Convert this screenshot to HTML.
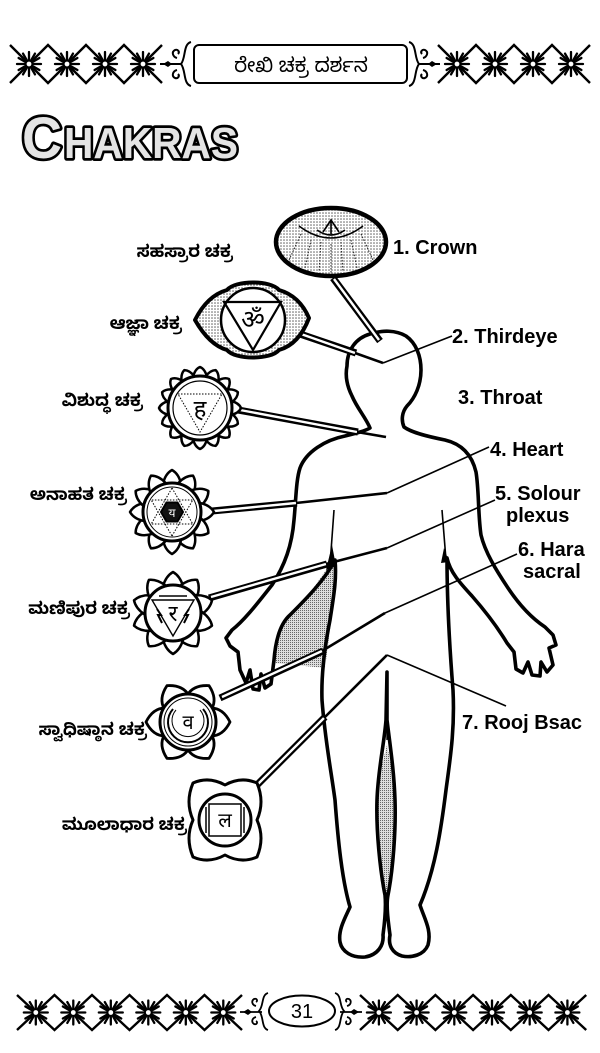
<!DOCTYPE html>
<html><head><meta charset="utf-8"><style>
html,body{margin:0;padding:0;background:#fff;}
svg{display:block;}
.lbl{font-family:"Liberation Sans",Arial,sans-serif;font-weight:bold;font-size:20px;fill:#000;}
.kn{font-family:"Liberation Sans","Noto Sans Kannada","Lohit Kannada",sans-serif;font-size:17px;font-weight:bold;fill:#000;}
.kt{font-family:"Liberation Sans","Noto Sans Kannada","Lohit Kannada",sans-serif;font-size:20px;fill:#000;}
.dv{font-family:"Liberation Sans","Noto Sans Devanagari","Lohit Devanagari","DejaVu Sans",sans-serif;fill:#000;}
</style></head><body>
<svg width="600" height="1053" viewBox="0 0 600 1053" xmlns="http://www.w3.org/2000/svg">
<defs>
<pattern id="dots" width="3" height="3" patternUnits="userSpaceOnUse"><rect width="3" height="3" fill="#fff"/><circle cx="1" cy="1" r="0.75" fill="#555"/></pattern>
<pattern id="gr" width="2" height="2" patternUnits="userSpaceOnUse"><rect width="2" height="2" fill="#ddd"/><rect width="1" height="1" fill="#666"/></pattern>
<g id="st">
<g stroke="#000" stroke-width="2.3" stroke-linecap="round">
<line x1="-12" y1="0" x2="12" y2="0"/><line x1="0" y1="-12" x2="0" y2="12"/>
<line x1="-10.4" y1="-6" x2="10.4" y2="6"/><line x1="-6" y1="-10.4" x2="6" y2="10.4"/>
<line x1="-10.4" y1="6" x2="10.4" y2="-6"/><line x1="-6" y1="10.4" x2="6" y2="-10.4"/>
</g>
<circle r="3" fill="#fff" stroke="#000" stroke-width="1.2"/>
</g>
<path id="p16" d="M-7,-31 Q-5,-39 0,-41 Q5,-39 7,-31 Z" fill="#fff" stroke="#000" stroke-width="2.5" stroke-linejoin="round"/>
<path id="p12" d="M-9,-28 Q-7,-38 0,-42 Q7,-38 9,-28 Z" fill="#fff" stroke="#000" stroke-width="2.5" stroke-linejoin="round"/>
<path id="p10" d="M-10,-27 Q-7,-37 0,-41 Q7,-37 10,-27 Z" fill="#fff" stroke="#000" stroke-width="2.5" stroke-linejoin="round"/>
<path id="p6" d="M-14,-23 Q-14,-35 0,-42 Q14,-35 14,-23 Z" fill="#fff" stroke="#000" stroke-width="2.8" stroke-linejoin="round"/>
</defs>

<!-- ===== TOP BORDER ===== -->
<g fill="none" stroke="#000" stroke-width="2.4">
<polyline points="10,45 48,83 86,45 124,83 162,45"/>
<polyline points="10,83 48,45 86,83 124,45 162,83"/>
<polyline points="438,45 476,83 514,45 552,83 590,45"/>
<polyline points="438,83 476,45 514,83 552,45 590,83"/>
</g>
<use href="#st" x="29" y="64"/><use href="#st" x="67" y="64"/><use href="#st" x="105" y="64"/><use href="#st" x="143" y="64"/>
<use href="#st" x="457" y="64"/><use href="#st" x="495" y="64"/><use href="#st" x="533" y="64"/><use href="#st" x="571" y="64"/>
<g fill="none" stroke="#000" stroke-width="2">
<line x1="160" y1="64" x2="182" y2="64"/>
<path d="M191,42 C183,44 186,58 181,64 C186,70 183,84 191,86"/>
<path d="M177,58 c-4,-1 -6,-6 -2,-8 c3,-1 5,2 3,4"/>
<path d="M177,70 c-4,1 -6,6 -2,8 c3,1 5,-2 3,-4"/>
<line x1="418" y1="64" x2="440" y2="64"/>
<path d="M409,42 C417,44 414,58 419,64 C414,70 417,84 409,86"/>
<path d="M423,58 c4,-1 6,-6 2,-8 c-3,-1 -5,2 -3,4"/>
<path d="M423,70 c4,1 6,6 2,8 c-3,1 -5,-2 -3,-4"/>
</g>
<path d="M163,64 l5,-3 l4,3 l-4,3 z M437,64 l-5,-3 l-4,3 l4,3 z" fill="#000"/>
<rect x="194" y="45" width="213" height="38" rx="5" fill="#fff" stroke="#000" stroke-width="2"/>
<text x="301" y="72" text-anchor="middle" class="kt">ರೇಖಿ ಚಕ್ರ ದರ್ಶನ</text>

<!-- ===== TITLE ===== -->
<text y="158" style="font-family:'Liberation Sans',Arial,sans-serif;font-weight:bold;" fill="#e4e4e4" stroke="#000" stroke-width="5.5" stroke-linejoin="round" paint-order="stroke"><tspan x="22" font-size="58" textLength="40" lengthAdjust="spacingAndGlyphs">C</tspan><tspan x="64" font-size="44" textLength="174" lengthAdjust="spacingAndGlyphs">HAKRAS</tspan></text>

<!-- ===== BODY ===== -->
<polygon points="333,560 305,600 282,624 274,663 325,668 330,630 337,565" fill="url(#gr)"/>
<polygon points="387,745 394,780 395,820 392,870 387,905 380,870 377,820 378,780" fill="url(#gr)"/>
<path fill="none" stroke="#000" stroke-width="3.6" stroke-linejoin="round" d="
M370,428 C366,418 357,408 352,396 C347,386 345,376 347,366 C347,350 356,338 370,334 C382,330 396,330 406,336 C416,343 421,356 421,370 C421,385 415,398 407,406 C402,412 401,420 404,427
C412,433 430,437 445,440 C462,444 472,455 476,472 C479,490 478,515 481,535 C485,552 496,570 508,588 C518,603 530,617 545,627
L553,635 L556,645 L549,648 L553,665 L547,672 L541,662 L540,676 L532,675 L528,662 L523,673 L516,669 L514,652 L507,643
C498,628 486,612 472,596 C460,583 450,572 447,558
C447,600 449,640 453,690 C455,730 450,760 446,790 C441,830 435,870 420,905 C424,918 432,930 428,945 C424,955 412,958 402,956 C392,953 388,945 390,935 C388,920 386,905 388,895 C393,870 396,830 395,800 C394,770 390,745 387,720 L387,672
L386,720 C384,745 378,770 377,800 C376,830 380,870 385,895 C386,905 385,920 383,935 C384,945 378,955 365,957 C352,958 342,952 340,942 C338,930 345,918 350,907 C342,880 338,840 335,800 C331,770 325,740 322,700 C321,670 326,640 330,620 C333,600 337,580 335,560
C325,580 305,600 290,615 C282,622 276,635 274,660
L271,684 L265,688 L261,674 L259,690 L253,689 L250,670 L246,683 L240,670 L238,652 L230,646 L226,638 L232,630
C245,620 260,600 272,585 C285,565 292,545 294,520 C296,500 296,480 300,468 C306,452 325,440 345,436 C357,433 365,431 370,428 Z"/>
<g stroke="#000" stroke-width="1.6" fill="none">
<line x1="334" y1="510" x2="330" y2="565"/>
<line x1="442" y1="510" x2="446" y2="560"/>
</g>
<line x1="387" y1="672" x2="387" y2="740" stroke="#000" stroke-width="1.4"/>
<path d="M332,545 L336,566 L326,570 Z M444,548 L449,562 L441,563 Z" fill="#000"/>

<!-- ===== CONNECTORS ===== -->
<g stroke-linecap="butt">
<g stroke="#000" stroke-width="7">
<line x1="333" y1="278" x2="380" y2="341"/>
<line x1="300" y1="334" x2="356" y2="353"/>
<line x1="238" y1="410" x2="358" y2="432"/>
<line x1="212" y1="511" x2="297" y2="503"/>
<line x1="209" y1="598" x2="327" y2="564"/>
<line x1="220" y1="698" x2="323" y2="651"/>
<line x1="256" y1="786" x2="325" y2="717"/>
</g>
<g stroke="#fff" stroke-width="2.4">
<line x1="334" y1="279" x2="379" y2="340"/>
<line x1="301" y1="334" x2="355" y2="353"/>
<line x1="240" y1="410" x2="357" y2="432"/>
<line x1="214" y1="511" x2="296" y2="503"/>
<line x1="211" y1="597" x2="326" y2="564"/>
<line x1="222" y1="697" x2="322" y2="651"/>
<line x1="258" y1="784" x2="324" y2="718"/>
</g>
</g>
<g stroke="#000" stroke-width="2.6">
<line x1="355" y1="353" x2="383" y2="363"/>
<line x1="357" y1="432" x2="386" y2="437"/>
<line x1="296" y1="503" x2="387" y2="493"/>
<line x1="326" y1="564" x2="387" y2="548"/>
<line x1="322" y1="651" x2="385" y2="613"/>
<line x1="324" y1="718" x2="387" y2="655"/>
</g>
<g stroke="#000" stroke-width="1.6">
<line x1="383" y1="363" x2="452" y2="336"/>
<line x1="387" y1="493" x2="489" y2="447"/>
<line x1="387" y1="548" x2="495" y2="500"/>
<line x1="385" y1="613" x2="517" y2="554"/>
<line x1="387" y1="655" x2="506" y2="706"/>
</g>

<!-- ===== CHAKRAS ===== -->
<g transform="translate(331,242)">
<ellipse rx="55" ry="34" fill="url(#dots)" stroke="#000" stroke-width="4.5"/>
<path d="M-32,-16 Q0,8 32,-16" fill="none" stroke="#000" stroke-width="1.5"/>
<g stroke="#222" stroke-width="1" stroke-dasharray="1.5 1.5">
<line x1="-30" y1="-8" x2="-42" y2="18"/><line x1="-20" y1="-2" x2="-26" y2="26"/><line x1="-10" y1="0" x2="-12" y2="30"/><line x1="0" y1="2" x2="0" y2="32"/><line x1="10" y1="0" x2="12" y2="30"/><line x1="20" y1="-2" x2="26" y2="26"/><line x1="30" y1="-8" x2="42" y2="18"/>
</g>
<path d="M-8,-10 L0,-22 L8,-10 M-14,-12 Q0,-2 14,-12 M0,-22 L0,-8" fill="none" stroke="#000" stroke-width="1.6"/>
</g>
<g transform="translate(253,320)">
<path d="M-58,0 C-50,-16 -40,-26 -26,-30 C-18,-40 18,-40 26,-30 C40,-26 50,-16 56,-2 C50,14 40,26 26,30 C18,40 -18,40 -26,30 C-40,26 -50,14 -58,0 Z" fill="url(#dots)" stroke="#000" stroke-width="4" stroke-linejoin="round"/>
<circle r="32" fill="#fff" stroke="#000" stroke-width="2.5"/>
<polygon points="-29,-18 28,-18 0,30" fill="none" stroke="#000" stroke-width="2.2"/>
<text x="0" y="8" text-anchor="middle" class="dv" font-size="26">ॐ</text>
</g>
<g transform="translate(200,408)">
<use href="#p16"/><use href="#p16" transform="rotate(22.5)"/><use href="#p16" transform="rotate(45)"/><use href="#p16" transform="rotate(67.5)"/><use href="#p16" transform="rotate(90)"/><use href="#p16" transform="rotate(112.5)"/><use href="#p16" transform="rotate(135)"/><use href="#p16" transform="rotate(157.5)"/><use href="#p16" transform="rotate(180)"/><use href="#p16" transform="rotate(202.5)"/><use href="#p16" transform="rotate(225)"/><use href="#p16" transform="rotate(247.5)"/><use href="#p16" transform="rotate(270)"/><use href="#p16" transform="rotate(292.5)"/><use href="#p16" transform="rotate(315)"/><use href="#p16" transform="rotate(337.5)"/>
<circle r="32" fill="#fff" stroke="#000" stroke-width="3"/>
<circle r="27" fill="none" stroke="#000" stroke-width="1.2"/>
<polygon points="-22,-14 22,-14 0,24" fill="none" stroke="#000" stroke-width="1" stroke-dasharray="1.5 1.5"/>
<text x="0" y="9" text-anchor="middle" class="dv" font-size="24">ह</text>
</g>
<g transform="translate(172,512)">
<use href="#p12"/><use href="#p12" transform="rotate(30)"/><use href="#p12" transform="rotate(60)"/><use href="#p12" transform="rotate(90)"/><use href="#p12" transform="rotate(120)"/><use href="#p12" transform="rotate(150)"/><use href="#p12" transform="rotate(180)"/><use href="#p12" transform="rotate(210)"/><use href="#p12" transform="rotate(240)"/><use href="#p12" transform="rotate(270)"/><use href="#p12" transform="rotate(300)"/><use href="#p12" transform="rotate(330)"/>
<circle r="29" fill="#fff" stroke="#000" stroke-width="3"/>
<circle r="25" fill="none" stroke="#000" stroke-width="1"/>
<g fill="none" stroke="#000" stroke-width="1" stroke-dasharray="1.5 1.5">
<polygon points="0,-24 20.8,12 -20.8,12"/><polygon points="0,24 20.8,-12 -20.8,-12"/>
</g>
<polygon points="11,0 5.5,9.5 -5.5,9.5 -11,0 -5.5,-9.5 5.5,-9.5" fill="#111" stroke="#000" stroke-width="2"/>
<text x="0" y="5" text-anchor="middle" class="dv" font-size="12" style="fill:#fff">य</text>
</g>
<g transform="translate(173,613)">
<use href="#p10"/><use href="#p10" transform="rotate(36)"/><use href="#p10" transform="rotate(72)"/><use href="#p10" transform="rotate(108)"/><use href="#p10" transform="rotate(144)"/><use href="#p10" transform="rotate(180)"/><use href="#p10" transform="rotate(216)"/><use href="#p10" transform="rotate(252)"/><use href="#p10" transform="rotate(288)"/><use href="#p10" transform="rotate(324)"/>
<circle r="28" fill="#fff" stroke="#000" stroke-width="3"/>
<polygon points="-21,-13 21,-13 0,23" fill="none" stroke="#000" stroke-width="1.4"/>
<path d="M-16,-4 l4,6 l-3,0 l4,8 M16,-4 l-4,6 l3,0 l-4,8" fill="none" stroke="#000" stroke-width="2"/>
<line x1="-14" y1="-17" x2="14" y2="-17" stroke="#000" stroke-width="1.4"/>
<text x="0" y="8" text-anchor="middle" class="dv" font-size="22">र</text>
</g>
<g transform="translate(188,722)">
<use href="#p6" transform="rotate(30)"/><use href="#p6" transform="rotate(90)"/><use href="#p6" transform="rotate(150)"/><use href="#p6" transform="rotate(210)"/><use href="#p6" transform="rotate(270)"/><use href="#p6" transform="rotate(330)"/>
<circle r="28" fill="#fff" stroke="#000" stroke-width="3"/>
<circle r="24" fill="none" stroke="#000" stroke-width="1"/>
<path d="M-15,-13 A20,20 0 1 0 15,-13" fill="none" stroke="#000" stroke-width="2"/>
<path d="M-12,-12 A16,16 0 1 0 12,-12" fill="none" stroke="#000" stroke-width="1"/>
<text x="0" y="7" text-anchor="middle" class="dv" font-size="20">व</text>
</g>
<g transform="translate(225,820)">
<path d="M-32,-37 Q-16,-44 0,-35 Q16,-44 32,-37 Q40,-18 32,0 Q40,18 32,37 Q16,44 0,35 Q-16,44 -32,37 Q-40,18 -32,0 Q-40,-18 -32,-37 Z" fill="#fff" stroke="#000" stroke-width="3" stroke-linejoin="round"/>
<circle r="26" fill="#fff" stroke="#000" stroke-width="3"/>
<rect x="-16" y="-16" width="32" height="32" fill="none" stroke="#000" stroke-width="1.5"/>
<line x1="-19" y1="-13" x2="-19" y2="13" stroke="#000" stroke-width="1.5"/>
<line x1="19" y1="-13" x2="19" y2="13" stroke="#000" stroke-width="1.5"/>
<text x="0" y="7" text-anchor="middle" class="dv" font-size="20">ल</text>
</g>

<!-- ===== LABELS ===== -->
<text x="233" y="257" text-anchor="end" class="kn">ಸಹಸ್ರಾರ ಚಕ್ರ</text>
<text x="182" y="329" text-anchor="end" class="kn">ಆಜ್ಞಾ ಚಕ್ರ</text>
<text x="143" y="406" text-anchor="end" class="kn">ವಿಶುದ್ಧ ಚಕ್ರ</text>
<text x="127" y="500" text-anchor="end" class="kn">ಅನಾಹತ ಚಕ್ರ</text>
<text x="130" y="614" text-anchor="end" class="kn">ಮಣಿಪುರ ಚಕ್ರ</text>
<text x="147" y="735" text-anchor="end" class="kn">ಸ್ವಾಧಿಷ್ಠಾನ ಚಕ್ರ</text>
<text x="187" y="830" text-anchor="end" class="kn">ಮೂಲಾಧಾರ ಚಕ್ರ</text>

<text x="393" y="254" class="lbl">1. Crown</text>
<text x="452" y="343" class="lbl">2. Thirdeye</text>
<text x="458" y="404" class="lbl">3. Throat</text>
<text x="490" y="456" class="lbl">4. Heart</text>
<text x="495" y="500" class="lbl">5. Solour</text>
<text x="506" y="522" class="lbl">plexus</text>
<text x="518" y="556" class="lbl">6. Hara</text>
<text x="523" y="578" class="lbl">sacral</text>
<text x="462" y="729" class="lbl">7. Rooj Bsac</text>

<!-- ===== FOOTER ===== -->
<g fill="none" stroke="#000" stroke-width="2.4">
<polyline points="17,995 54.5,1030 92,995 129.5,1030 167,995 204.5,1030 242,995"/>
<polyline points="17,1030 54.5,995 92,1030 129.5,995 167,1030 204.5,995 242,1030"/>
<polyline points="360,995 397.7,1030 435.4,995 473.1,1030 510.8,995 548.5,1030 586.2,995"/>
<polyline points="360,1030 397.7,995 435.4,1030 473.1,995 510.8,1030 548.5,995 586.2,1030"/>
</g>
<use href="#st" x="35.8" y="1012.5"/><use href="#st" x="73.3" y="1012.5"/><use href="#st" x="110.8" y="1012.5"/><use href="#st" x="148.3" y="1012.5"/><use href="#st" x="185.8" y="1012.5"/><use href="#st" x="223.3" y="1012.5"/>
<use href="#st" x="378.9" y="1012.5"/><use href="#st" x="416.6" y="1012.5"/><use href="#st" x="454.3" y="1012.5"/><use href="#st" x="492" y="1012.5"/><use href="#st" x="529.7" y="1012.5"/><use href="#st" x="567.4" y="1012.5"/>
<g fill="none" stroke="#000" stroke-width="1.8">
<line x1="240" y1="1012" x2="262" y2="1012"/>
<path d="M268,993 C261,995 264,1006 259,1011 C264,1016 261,1028 268,1030"/>
<path d="M256,1006 c-4,-1 -5,-5 -2,-7 c3,-1 4,2 2,3"/>
<path d="M256,1017 c-4,1 -5,5 -2,7 c3,1 4,-2 2,-3"/>
<line x1="340" y1="1012" x2="362" y2="1012"/>
<path d="M335,993 C342,995 339,1006 344,1011 C339,1016 342,1028 335,1030"/>
<path d="M347,1006 c4,-1 5,-5 2,-7 c-3,-1 -4,2 -2,3"/>
<path d="M347,1017 c4,1 5,5 2,7 c-3,1 -4,-2 -2,-3"/>
</g>
<path d="M243,1012 l5,-3 l4,3 l-4,3 z M359,1012 l-5,-3 l-4,3 l4,3 z" fill="#000"/>
<ellipse cx="302" cy="1011" rx="33" ry="15.5" fill="#fff" stroke="#000" stroke-width="2"/>
<text x="302" y="1018" text-anchor="middle" style="font-family:'Liberation Sans',Arial,sans-serif;font-size:20px">31</text>
</svg>
</body></html>
